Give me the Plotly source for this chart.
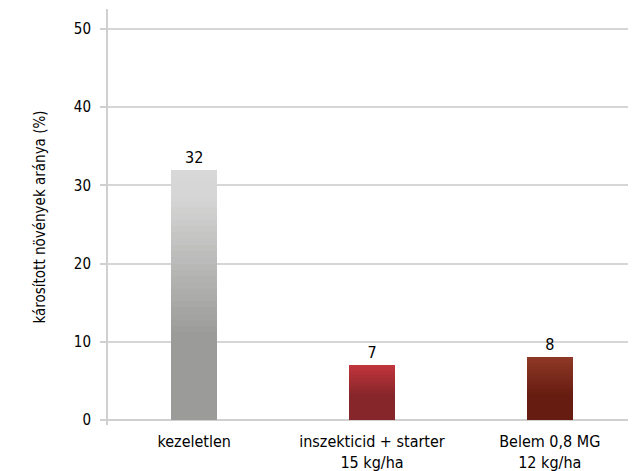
import plotly.graph_objects as go

# data
categories = ["kezeletlen", "inszekticid + starter<br>15 kg/ha", "Belem 0,8 MG<br>12 kg/ha"]
values = [32, 7, 8]
y_ticks = [0, 10, 20, 30, 40, 50]

# gradient stops per bar: (fraction from top, colour)
gradients = [
    [(0.0, "#d7d8d7"), (0.12, "#d4d5d4"), (0.66, "#9b9b99"), (1.0, "#9b9b99")],
    [(0.0, "#c1343c"), (0.55, "#86262a"), (1.0, "#86262a")],
    [(0.0, "#8f3826"), (0.60, "#661c10"), (1.0, "#661c10")],
]

FONT = "DejaVu Sans Condensed, Liberation Sans Narrow, Arial Narrow, sans-serif"
N = 40  # slices used to fake the vertical gradient


def hex2rgb(h):
    h = h.lstrip("#")
    return tuple(int(h[i:i + 2], 16) for i in (0, 2, 4))


def colour_at(stops, f):
    for (f0, c0), (f1, c1) in zip(stops, stops[1:]):
        if f0 <= f <= f1:
            t = 0 if f1 == f0 else (f - f0) / (f1 - f0)
            a, b = hex2rgb(c0), hex2rgb(c1)
            return "rgb(%d,%d,%d)" % tuple(round(a[i] + (b[i] - a[i]) * t) for i in range(3))
    return stops[-1][1]


fig = go.Figure()
for k in range(N):
    # slice k counted from the bottom
    frac_from_top = 1 - (k + 0.5) / N
    cols = [colour_at(g, frac_from_top) for g in gradients]
    last = k == N - 1
    fig.add_trace(go.Bar(
        x=categories,
        y=[v / N for v in values],
        marker=dict(color=cols, line=dict(width=0)),
        width=0.26,
        text=[str(v) for v in values] if last else None,
        textposition="outside" if last else "none",
        textfont=dict(family=FONT, size=16, color="#000000"),
        cliponaxis=False,
        hoverinfo="skip",
        showlegend=False,
    ))

# the page body adds an 8px offset, margins are set to compensate
fig.update_layout(
    barmode="stack",
    width=636, height=471,
    margin=dict(l=100, r=8, t=1, b=54),
    plot_bgcolor="white", paper_bgcolor="white",
    font=dict(family=FONT, size=15, color="#000000"),
    xaxis=dict(
        range=[-0.485, 2.485],
        showgrid=False, showline=False, ticks="",
        tickfont=dict(size=16),
        ticklabelstandoff=5,
    ),
    yaxis=dict(
        range=[-0.64, 52.56],
        tickvals=y_ticks,
        showgrid=True, gridcolor="#d6d6d6", gridwidth=2,
        zeroline=True, zerolinecolor="#d0d0d0", zerolinewidth=2,
        showline=True, linecolor="#d0d0d0", linewidth=2,
        ticks="outside", ticklen=6, tickcolor="#d0d0d0", tickwidth=2,
        ticklabelstandoff=6,
        tickfont=dict(size=15),
        title=dict(text="károsított növények aránya (%)", font=dict(size=15), standoff=25),
    ),
)

fig.write_html("out.html")
